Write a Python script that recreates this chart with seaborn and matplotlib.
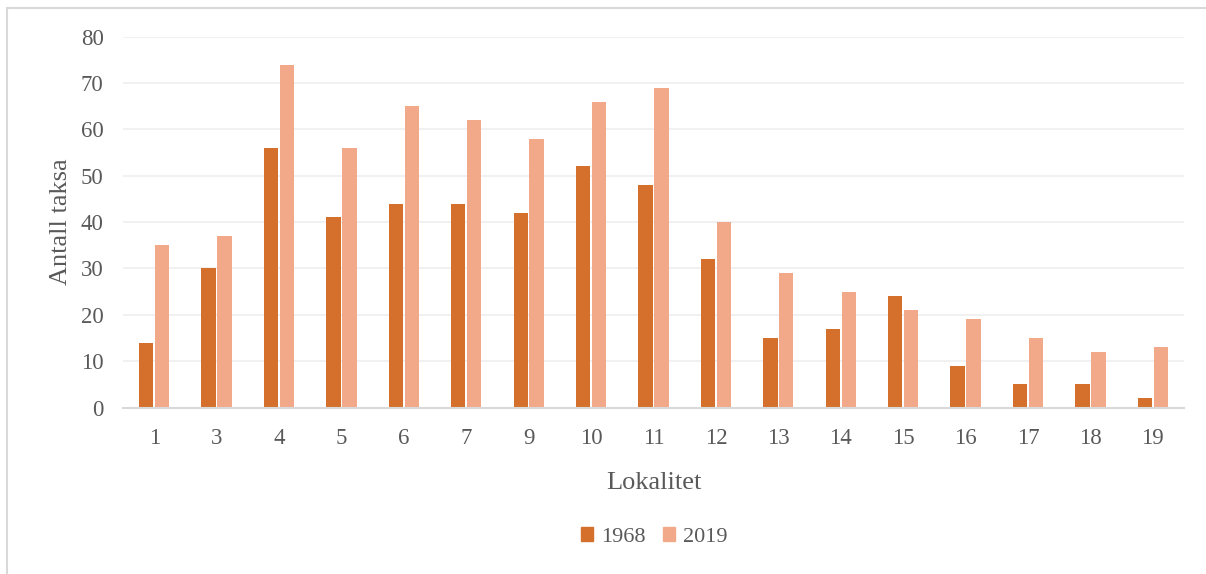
import matplotlib
matplotlib.use("Agg")
import matplotlib.pyplot as plt
import matplotlib.patches as mpatches
import pandas as pd
import seaborn as sns

# Number of taxa per locality, 1968 vs 2019
localities = ["1", "3", "4", "5", "6", "7", "9", "10", "11", "12",
              "13", "14", "15", "16", "17", "18", "19"]
taxa_1968 = [14, 30, 56, 41, 44, 44, 42, 52, 48, 32, 15, 17, 24, 9, 5, 5, 2]
taxa_2019 = [35, 37, 74, 56, 65, 62, 58, 66, 69, 40, 29, 25, 21, 19, 15, 12, 13]
years = ["1968", "2019"]
colors = ["#D4702C", "#F2A98A"]
y_ticks = [0, 10, 20, 30, 40, 50, 60, 70, 80]

df = pd.DataFrame({
    "Lokalitet": localities * 2,
    "Antall": taxa_1968 + taxa_2019,
    "År": [years[0]] * len(localities) + [years[1]] * len(localities),
})

sns.set_theme(style="white")
plt.rcParams["font.family"] = ["Liberation Serif", "DejaVu Serif"]
text_color = "#595959"

fig = plt.figure(figsize=(12.06, 5.74), dpi=100)
ax = fig.add_axes([123 / 1206, 1 - 407.5 / 574, (1184 - 123) / 1206, (407.5 - 36.7) / 574])

sns.barplot(data=df, x="Lokalitet", y="Antall", hue="År", order=localities,
            hue_order=years, palette=colors, width=0.51, gap=0.1,
            linewidth=0, saturation=1, ax=ax, legend=False)

ax.set_ylim(0, 80)
ax.set_xlim(-0.5, len(localities) - 0.5)
ax.set_yticks(y_ticks)
ax.yaxis.grid(True, color="#F0F0F0", linewidth=1.3)
ax.set_axisbelow(True)
for side in ["top", "right", "left"]:
    ax.spines[side].set_visible(False)
ax.spines["bottom"].set_color("#D9D9D9")
ax.spines["bottom"].set_linewidth(1.5)
ax.tick_params(axis="both", length=0, labelsize=16.5, colors=text_color)
ax.tick_params(axis="y", pad=14)
ax.tick_params(axis="x", pad=15)

ax.set_xlabel("Lokalitet", fontsize=19, color=text_color, labelpad=16)
ax.set_ylabel("Antall taksa", fontsize=19, color=text_color, labelpad=6)

handles = [mpatches.Patch(color=c, label=y) for c, y in zip(colors, years)]
fig.legend(handles=handles, loc="center", bbox_to_anchor=(654 / 1206, 1 - 537 / 574),
           ncol=2, frameon=False, fontsize=16, handlelength=0.54, handleheight=0.54,
           handletextpad=0.36, columnspacing=0.8, labelcolor=text_color)

# Light outer frame of the chart area
fig.patches.append(mpatches.Rectangle((6.5 / 1206, -0.05), 1.1, 1 - 7.5 / 574 + 0.05,
                                      transform=fig.transFigure, fill=False,
                                      edgecolor="#D9D9D9", linewidth=1.5))

fig.savefig("out.png", dpi=100, facecolor="white")
